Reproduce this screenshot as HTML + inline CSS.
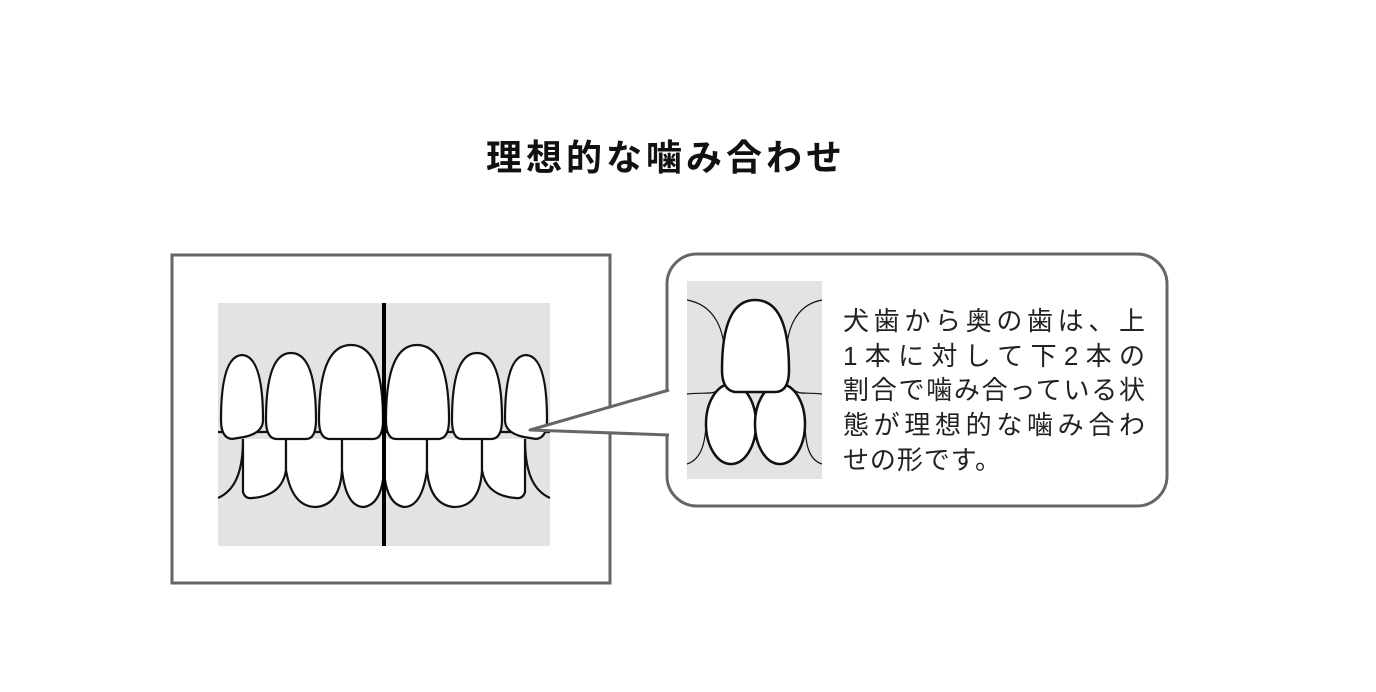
<!DOCTYPE html>
<html><head><meta charset="utf-8"><style>
html,body{margin:0;padding:0;background:#fff;width:1376px;height:692px;overflow:hidden}
svg{display:block}
</style></head><body>
<svg width="1376" height="692" viewBox="0 0 1376 692" xmlns="http://www.w3.org/2000/svg">
<text x="486" y="170" font-family="Liberation Sans, Noto Sans CJK JP, sans-serif" font-size="36" font-weight="bold" letter-spacing="4" fill="#111">理想的な噛み合わせ</text>

<rect x="172" y="255" width="438" height="328" fill="#fff" stroke="#666" stroke-width="3"/>
<rect x="218" y="303" width="332" height="243" fill="#e3e3e3"/>
<g fill="none" stroke="#111" stroke-width="2.2">
<line x1="218" y1="432" x2="550" y2="432"/>
<path d="M218,498 C236,490 243,470 243,439"/>
<path d="M550,498 C532,490 525,470 525,439"/>
</g>
<g fill="#fff" stroke="#111" stroke-width="2.2">
<path d="M243,439 L243,492 Q245,499 252,498 Q282,496 286,470 L286,439"/>
<path d="M286,439 L286,470 Q292,507 316,507 Q340,505 342,470 L342,439"/>
<path d="M342,439 L342,470 Q346,507 364,507 Q382,504 384,470 L384,439"/>
<path d="M384,439 L384,470 Q386,504 404,507 Q422,507 427,470 L427,439"/>
<path d="M427,439 L427,470 Q430,505 454,507 Q480,507 482,470 L482,439"/>
<path d="M482,439 L482,470 Q486,496 516,498 Q523,499 525,492 L525,439"/>
<path d="M232,439 Q221,438 221,420 Q221,356 242,355 Q263,356 263,420 Q263,433 244,437 Z"/>
<path d="M276,439 Q266,438 266,420 Q266,353 291,353 Q316,353 316,420 Q316,439 306,439 Z"/>
<path d="M329,439 Q319,438 319,420 Q319,345 351,345 Q383,345 383,420 Q383,439 373,439 Z"/>
<path d="M396,439 Q386,439 386,420 Q386,345 417,345 Q449,345 449,420 Q449,438 439,439 Z"/>
<path d="M462,439 Q452,439 452,420 Q452,353 477,353 Q502,353 502,420 Q502,438 492,439 Z"/>
<path d="M536,439 Q547,438 547,420 Q547,356 526,355 Q505,356 505,420 Q505,433 524,437 Z"/>
</g>
<line x1="384" y1="303" x2="384" y2="546" stroke="#000" stroke-width="4"/>

<rect x="667" y="254" width="500" height="252" rx="30" fill="#fff" stroke="#666" stroke-width="3"/>
<polygon points="530,430 669,390 669,435" fill="#fff"/>
<polyline points="669,390 530,430 669,435" fill="none" stroke="#666" stroke-width="3" stroke-linejoin="round"/>

<rect x="687" y="281" width="135" height="198" fill="#e3e3e3"/>
<g fill="none" stroke="#111" stroke-width="1.2">
<path d="M687,300 C715,305 725,330 725,360"/>
<path d="M822,300 C795,305 786,330 786,360"/>
<path d="M687,394 C705,392 712,395 718,390"/>
<path d="M822,394 C805,392 800,395 794,390"/>
<path d="M687,464 C700,460 706,445 706,420"/>
<path d="M822,464 C809,460 805,445 805,420"/>
</g>
<g fill="#fff" stroke="#111" stroke-width="2.5">
<ellipse cx="731" cy="424" rx="25" ry="40"/>
<ellipse cx="780" cy="424" rx="25" ry="40"/>
<path d="M735,392 Q722,390 722,370 Q722,300 755,300 Q789,300 789,370 Q789,392 775,392 Z"/>
</g>

<g font-family="Liberation Sans, Noto Sans CJK JP, sans-serif" font-size="26" fill="#222">
<text x="843" y="330" textLength="302" lengthAdjust="spacing">犬歯から奥の歯は、上</text>
<text x="843" y="365" textLength="302" lengthAdjust="spacing">1本に対して下2本の</text>
<text x="843" y="399" textLength="302" lengthAdjust="spacing">割合で噛み合っている状</text>
<text x="843" y="434" textLength="302" lengthAdjust="spacing">態が理想的な噛み合わ</text>
<text x="843" y="469" textLength="158" lengthAdjust="spacing">せの形です。</text>
</g>
</svg>
</body></html>
